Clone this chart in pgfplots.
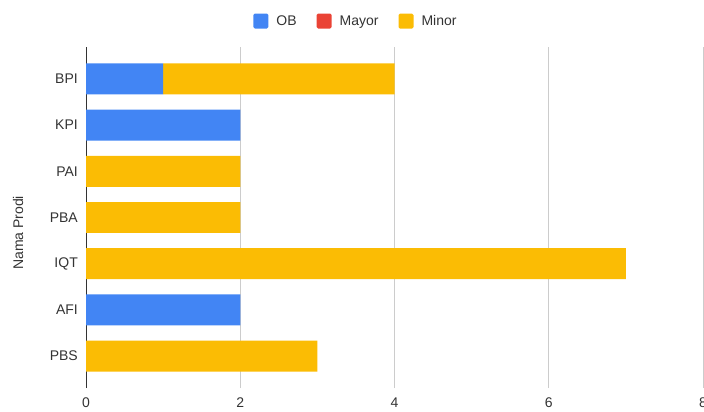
\documentclass[border=0pt]{standalone}
\usepackage{pgfplots}
\pgfplotsset{compat=1.18}
\usepackage{fontspec}
\setmainfont{Liberation Sans}
\definecolor{obblue}{HTML}{4285F4}
\definecolor{mayorred}{HTML}{EA4335}
\definecolor{minoryellow}{HTML}{FBBC04}
\definecolor{txt}{HTML}{333333}
\definecolor{gridc}{HTML}{CCCCCC}
\pgfplotsset{sqlegend/.style={legend image code/.code={\fill[##1, rounded corners=1.5pt] (0pt,-7.5pt) rectangle (15pt,7.5pt);}}}
\begin{document}
\begin{tikzpicture}
\begin{axis}[
  name=ax,
  scale only axis,
  width=617pt, height=341pt,
  xbar stacked,
  bar width=0.67,
  xmin=0, xmax=8,
  ymin=-0.69, ymax=6.69,
  xtick={2,4,6,8},
  extra x ticks={0},
  extra x tick style={grid style={color=txt, line width=1pt}},
  ytick={0,1,2,3,4,5,6},
  yticklabels={PBS,AFI,IQT,PBA,PAI,KPI,BPI},
  xmajorgrids,
  grid style={color=gridc, line width=0.8pt},
  axis line style={draw=none},
  major tick length=0pt,
  font=\fontsize{14}{16}\selectfont,
  tick label style={color=txt},
  /pgf/number format/assume math mode=true,
  yticklabel style={inner sep=0pt, xshift=-8pt},
  xticklabel style={inner sep=0pt, yshift=-10pt},
  ylabel={Nama Prodi},
  ylabel style={at={(axis description cs:-0.110,0.455)}, anchor=center, color=txt},
  legend style={at={(axis description cs:0.271,1.076)}, anchor=west, draw=none,
    fill=none, inner sep=0pt, text=txt, legend columns=3,
    font=\fontsize{14}{16}\selectfont,
    nodes={inner sep=0pt},
    /tikz/every odd column/.append style={column sep=8pt},
    /tikz/every even column/.append style={column sep=20pt}},
]
\addplot[fill=obblue, draw=none, sqlegend] coordinates {(0,0) (2,1) (0,2) (0,3) (0,4) (2,5) (1,6)};
\addplot[fill=mayorred, draw=none, sqlegend] coordinates {(0,0) (0,1) (0,2) (0,3) (0,4) (0,5) (0,6)};
\addplot[fill=minoryellow, draw=none, sqlegend] coordinates {(3,0) (0,1) (7,2) (2,3) (2,4) (0,5) (3,6)};
\legend{OB, Mayor, Minor}
\end{axis}
\pgfresetboundingbox
\path[use as bounding box] ([xshift=-86pt, yshift=-23pt]ax.south west) rectangle ([xshift=1pt, yshift=47pt]ax.north east);
\end{tikzpicture}
\end{document}
